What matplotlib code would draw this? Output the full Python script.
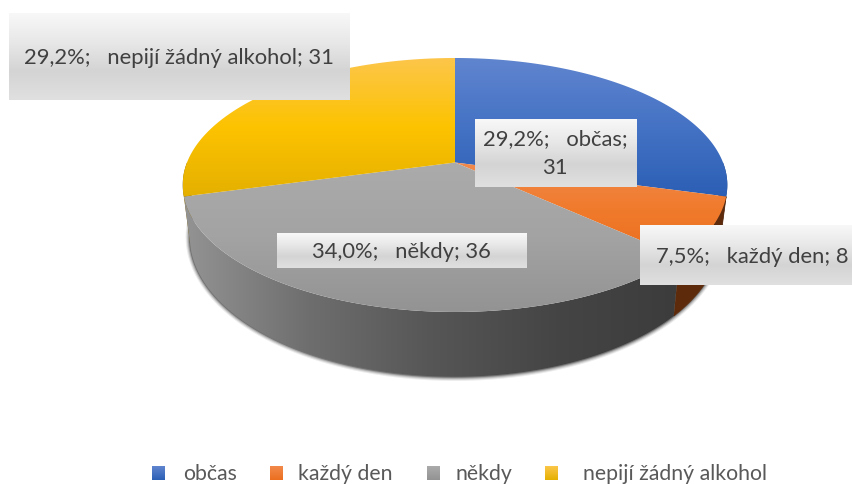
import numpy as np
import matplotlib
matplotlib.use("Agg")
import matplotlib.pyplot as plt
from matplotlib.colors import LinearSegmentedColormap
from matplotlib.patches import Polygon

categories = ['občas', 'každý den', 'někdy', 'nepijí žádný alkohol']
values = [31, 8, 36, 31]

plt.rcParams['font.family'] = ['Lato', 'DejaVu Sans']

# label boxes: x0, x1, y0, y1, text center
boxes = [(475, 637, 120, 188, 555, 154),
         (640, 853, 226, 286, 752, 257),
         (277, 527, 234, 269, 401, 252),
         (9, 350, 14, 101, 179, 58)]
legend_sq = [152, 270, 427, 545]
legend_tx = [183, 298, 456, 583]

# top face gradient (top to bottom of the slice) and side colours
top_cols = [['#6085cf', '#4472c4', '#2b5fb5'],
            ['#f28a4c', '#f07a2c', '#ec6f1e'],
            ['#ababab', '#a3a3a3', '#939393'],
            ['#fcc64a', '#fdc300', '#e4b000']]
side_cols = ['#1e3f78', '#5d2b0b', None, '#7d6000']
grey_side = ['#939393', '#6e6e6e', '#565656', '#454545', '#3c3c3c']

fig = plt.figure(figsize=(8.53, 4.85), dpi=100)
ax = fig.add_axes([0, 0, 1, 1])


def proj(deg, a, b, k, cy):
    t = np.radians(deg)
    d = 1 + k * np.cos(t)
    return 455 + a * np.sin(t) / d, cy - b * np.cos(t) / d


def top(deg):
    return proj(deg, 268, 123, 0.177, 163.5)


def bottom(deg):
    return proj(deg, 261, 135.6, 0.177, 213)


def grad(cols, ext, horizontal=False, clip=None):
    cmap = LinearSegmentedColormap.from_list('g', cols)
    arr = np.linspace(0, 1, 256)
    arr = arr.reshape(1, -1) if horizontal else arr.reshape(-1, 1)
    im = ax.imshow(arr, cmap=cmap, extent=ext, aspect='auto', origin='upper',
                   interpolation='bilinear', zorder=3)
    if clip is not None:
        clip.set_transform(ax.transData)
        im.set_clip_path(clip)
    return im


def side_poly(a0, a1):
    th = np.linspace(a0, a1, 120)
    x0, y0 = top(th)
    x1, y1 = bottom(th)
    return np.column_stack([np.r_[x0, x1[::-1]], np.r_[y0, y1[::-1]]])


angles = np.cumsum([0] + values) / sum(values) * 360

# soft shadow under the disc
th = np.linspace(90, 270, 300)
sx, sy = bottom(th)
for w, al in zip([6, 4.5, 3, 1.5], [0.08, 0.12, 0.18, 0.3]):
    ax.plot(sx, sy, color='black', lw=w, alpha=al, zorder=1, solid_capstyle='round')

# sides
ax.add_patch(Polygon(side_poly(90, angles[1]), fc=side_cols[0], ec='none', zorder=2))
ax.add_patch(Polygon(side_poly(angles[3], 270), fc=side_cols[3], ec='none', zorder=2))
ax.add_patch(Polygon(side_poly(angles[1], angles[2]), fc=side_cols[1], ec=side_cols[1], lw=0.5, zorder=2))
grad(grey_side, (185, 680, 400, 150), horizontal=True,
     clip=Polygon(side_poly(angles[2], angles[3])))

# top faces
for i in range(len(values)):
    th = np.linspace(angles[i], angles[i + 1], 200)
    x, y = top(th)
    px = np.r_[455, x]
    py = np.r_[163.5, y]
    clip = Polygon(np.column_stack([px, py]))
    grad(top_cols[i], (px.min(), px.max(), py.max(), py.min()), clip=clip)

# data labels
total = sum(values)
for i, (x0, x1, y0, y1, tx, ty) in enumerate(boxes):
    grad(['#f8f8f8', '#e8e8e8', '#d4d4d4', '#e0e0e0'], (x0, x1, y1, y0)).set_zorder(5)
    pct = f"{values[i] / total * 100:.1f}".replace('.', ',')
    sep = '\n' if i == 0 else ' '
    s = f"{pct}%;   {categories[i]};{sep}{values[i]}"
    ax.text(tx, ty, s, ha='center', va='center', fontsize=15.8, color='#404040',
            linespacing=1.56, zorder=6)

# legend
for i, c in enumerate(categories):
    grad([top_cols[i][0], top_cols[i][2]], (legend_sq[i], legend_sq[i] + 13, 481, 467)).set_zorder(5)
    ax.text(legend_tx[i], 474, c, ha='left', va='center', fontsize=15.3, color='#595959', zorder=6)

ax.set_xlim(0, 853)
ax.set_ylim(485, 0)
ax.axis('off')
fig.savefig('out.png', dpi=100, facecolor='white')
